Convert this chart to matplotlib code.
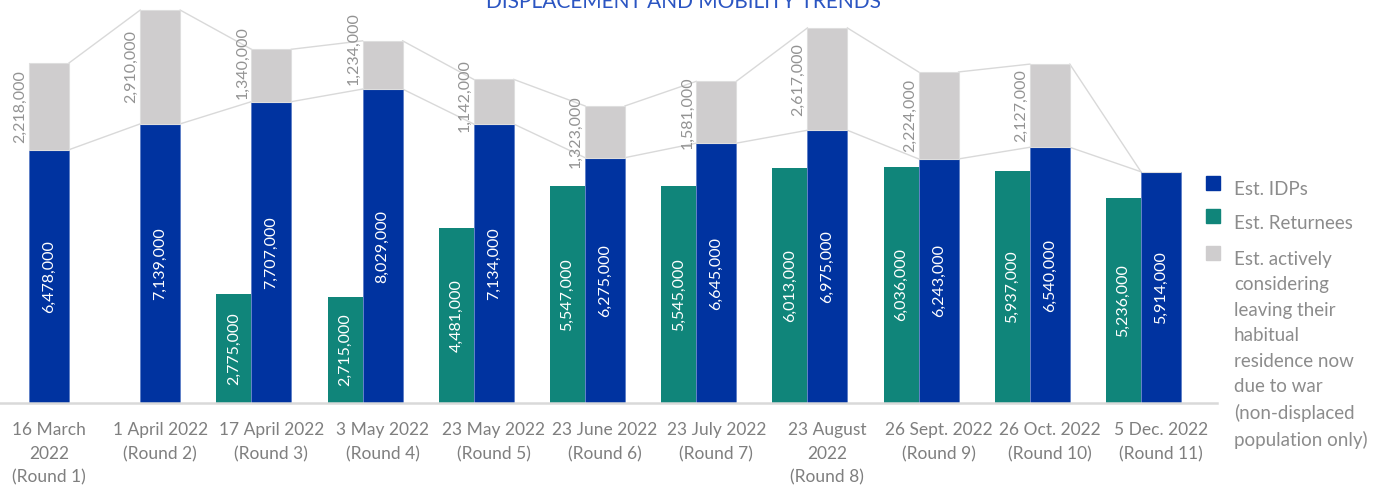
import matplotlib
matplotlib.use("Agg")
import matplotlib.pyplot as plt
from matplotlib.patches import Rectangle
import numpy as np

# ---------------- data ----------------
categories = ["16 March\n2022\n(Round 1)", "1 April 2022\n(Round 2)", "17 April 2022\n(Round 3)",
              "3 May 2022\n(Round 4)", "23 May 2022\n(Round 5)", "23 June 2022\n(Round 6)",
              "23 July 2022\n(Round 7)", "23 August\n2022\n(Round 8)", "26 Sept. 2022\n(Round 9)",
              "26 Oct. 2022\n(Round 10)", "5 Dec. 2022\n(Round 11)"]
idps = [6478000, 7139000, 7707000, 8029000, 7134000, 6275000, 6645000, 6975000, 6243000, 6540000, 5914000]
returnees = [0, 0, 2775000, 2715000, 4481000, 5547000, 5545000, 6013000, 6036000, 5937000, 5236000]
considering = [2218000, 2910000, 1340000, 1234000, 1142000, 1323000, 1581000, 2617000, 2224000, 2127000, 0]
legend_labels = ["Est. IDPs", "Est. Returnees",
                 "Est. actively\nconsidering\nleaving their\nhabitual\nresidence now\ndue to war\n(non-displaced\npopulation only)"]
title = "DISPLACEMENT AND MOBILITY TRENDS"

# ---------------- style ----------------
BLUE = "#0033A0"
TEAL = "#10857A"
GREY = "#CFCDCE"
LINE = "#D9D9D9"
TXT = "#8C8C8C"
FONT = "Lato"
grey_label_shift_px = [0, 0, 13, 16, 6, 0, 0, 0, 0, 0, 0]  # manual nudges (upwards)

W, H = 1373, 486
fig = plt.figure(figsize=(W / 100, H / 100), dpi=100)
ax = fig.add_axes([0, 83 / H, 1217 / W, 403 / H])

x = np.arange(len(categories))
slot = 111.2
w_blue = 40 / slot
w_teal = 35 / slot
x_teal = x - w_blue / 2 - w_teal / 2

idps_a = np.array(idps)
ret_a = np.array(returnees)
con_a = np.array(considering)
tot = idps_a + con_a

ax.bar(x, idps_a, width=w_blue, color=BLUE, edgecolor="#5577c4", linewidth=0.5, zorder=3)
ax.bar(x, con_a, bottom=idps_a, width=w_blue, color=GREY, edgecolor="#dedede", linewidth=0.8, zorder=3)
ax.bar(x_teal, ret_a, width=w_teal, color=TEAL, linewidth=0, zorder=3)

# series lines
for i in range(len(x) - 1):
    ax.plot([x[i] + w_blue / 2, x[i + 1] - w_blue / 2], [idps_a[i], idps_a[i + 1]],
            color=LINE, lw=1.0, zorder=2)
    ax.plot([x[i] + w_blue / 2, x[i + 1] - w_blue / 2], [tot[i], tot[i + 1]],
            color=LINE, lw=1.0, zorder=2)

# value labels
LBL = 11.5
for i in range(len(x)):
    ax.text(x[i], idps_a[i] / 2, f"{idps[i]:,}", rotation=90, ha="center", va="center",
            color="white", fontsize=LBL, family=FONT, zorder=4)
    if returnees[i] > 0:
        ax.text(x_teal[i], ret_a[i] / 2, f"{returnees[i]:,}", rotation=90, ha="center", va="center",
                color="white", fontsize=LBL, family=FONT, zorder=4)
    if considering[i] > 0:
        ax.annotate(f"{considering[i]:,}", (x[i] - w_blue / 2, idps_a[i] + con_a[i] / 2),
                    xytext=(-2, grey_label_shift_px[i]), textcoords="offset pixels",
                    rotation=90, ha="right", va="center", color="#939393", fontsize=LBL,
                    family=FONT, zorder=4)

ax.set_xlim(-49 / slot, (1217 - 49) / slot)
ax.set_ylim(0, 403 / 39.1 * 1e6)
ax.set_xticks(x)
ax.set_xticklabels(categories, family=FONT, fontsize=12.5, color="#7F7F7F", linespacing=1.58)
ax.tick_params(axis="x", length=0, pad=14)
ax.set_yticks([])
for s in ["top", "left", "right"]:
    ax.spines[s].set_visible(False)
ax.spines["bottom"].set_color(LINE)
ax.spines["bottom"].set_linewidth(1.8)
ax.spines["bottom"].set_zorder(5)

# title (partially cut at top, as in reference)
fig.text(683 / W, 1 - 8 / H, title, ha="center", va="baseline", color="#2B55C2",
         fontsize=15, family=FONT)

# legend (manual)
leg_colors = [BLUE, TEAL, GREY]
sq_y = [176, 209, 246]
txt_y = [191, 225, 261]
for c, sy, ty, lab in zip(leg_colors, sq_y, txt_y, legend_labels):
    fig.add_artist(Rectangle((1206 / W, 1 - (sy + 14) / H), 14 / W, 14 / H,
                             transform=fig.transFigure, color=c))
    fig.text(1234 / W, 1 - (ty - 10) / H, lab, ha="left", va="top", color=TXT, fontsize=13.5,
             family=FONT, linespacing=1.6)

fig.savefig("out.png", dpi=100)
